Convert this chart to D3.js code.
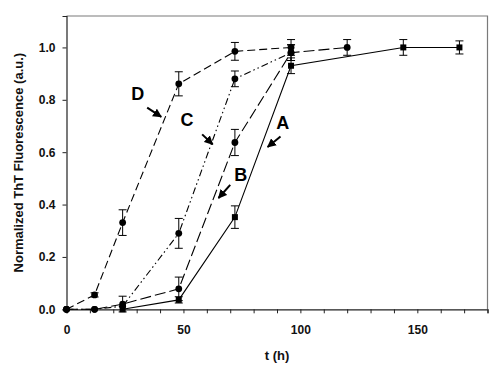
<!DOCTYPE html>
<html>
<head>
<meta charset="utf-8">
<script src="https://cdn.jsdelivr.net/npm/d3@7"></script>
<style>
  html, body { margin: 0; padding: 0; background: #fff; }
  svg { display: block; font-family: "Liberation Sans", Arial, sans-serif; }
</style>
</head>
<body>
<svg id="chart" width="497" height="375"></svg>
<script>
// time points (h) and normalized ThT values
const timesA = [24, 48, 72, 96, 144, 168];
const valsA  = [0, 0.036, 0.352, 0.93, 1.0, 1.0];
const errA   = [0, 0.012, 0.043, 0.03, 0.03, 0.025];

const timesB = [0, 12, 24, 48, 72, 96, 120];
const valsB  = [0, 0, 0.02, 0.078, 0.637, 0.98, 1.0];
const errB   = [0, 0, 0.03, 0.045, 0.05, 0.03, 0.03];

const timesC = [0, 12, 24, 48, 72, 96];
const valsC  = [0, 0, 0.012, 0.29, 0.88, 0.98];
const errC   = [0, 0, 0, 0.057, 0.03, 0.03];

const timesD = [0, 12, 24, 48, 72, 96];
const valsD  = [0, 0.055, 0.331, 0.861, 0.985, 1.0];
const errD   = [0, 0.008, 0.049, 0.046, 0.034, 0.03];

const yTicks = [0, 0.2, 0.4, 0.6, 0.8, 1.0];
const xTicks = d3.range(0, 181, 10);

const series = [
  { name: 'A', t: timesA, v: valsA, e: errA, dash: null, marker: 'square' },
  { name: 'B', t: timesB, v: valsB, e: errB, dash: '11,4', marker: 'circle' },
  { name: 'C', t: timesC, v: valsC, e: errC, dash: '7,3,1.5,3,1.5,3', marker: 'circle' },
  { name: 'D', t: timesD, v: valsD, e: errD, dash: '8,4', marker: 'circle' },
];

// label text position + arrow (in data units)
const labels = [
  { name: 'D', lx: 30.5, ly: 0.80, ax0: 34.5, ay0: 0.77, ax1: 40.5, ay1: 0.735 },
  { name: 'C', lx: 51.5, ly: 0.70, ax0: 58, ay0: 0.668, ax1: 62.5, ay1: 0.63 },
  { name: 'B', lx: 74.5, ly: 0.49, ax0: 70, ay0: 0.475, ax1: 65, ay1: 0.425 },
  { name: 'A', lx: 92.5, ly: 0.687, ax0: 91.5, ay0: 0.66, ax1: 86, ay1: 0.62 },
];

const svg = d3.select('#chart');
const L = 66.5, R = 487.5, T = 16, B = 309.3;

const x = d3.scaleLinear().domain([0, 180]).range([L, R]);
const y = d3.scaleLinear().domain([0, 1.12]).range([B, T]);

// frame (top/right grey)
svg.append('path')
  .attr('d', `M${L},${T}H${R}V${B}`)
  .attr('fill', 'none')
  .attr('stroke', '#7a7a7a')
  .attr('stroke-width', 1.2);

const xAxis = svg.append('g')
  .attr('transform', `translate(0,${B})`)
  .call(d3.axisBottom(x).tickValues(xTicks).tickSize(4).tickPadding(12)
    .tickFormat(d => d % 50 === 0 ? d : ''));

const yAxis = svg.append('g')
  .attr('transform', `translate(${L},0)`)
  .call(d3.axisLeft(y).tickValues(yTicks).tickSize(4).tickPadding(7)
    .tickFormat(d3.format('.1f')));

[xAxis, yAxis].forEach(g => {
  g.select('.domain').attr('stroke', '#222').attr('stroke-width', 1.2);
  g.selectAll('.tick line').attr('stroke', '#222');
  g.selectAll('text')
    .attr('fill', '#111')
    .style('font-size', '12px')
    .style('font-weight', 'bold')
    .style('font-family', '"Liberation Sans", Arial, sans-serif');
});

svg.append('text')
  .attr('x', 277).attr('y', 360)
  .attr('text-anchor', 'middle')
  .attr('fill', '#111')
  .style('font-size', '13px').style('font-weight', 'bold')
  .text('t (h)');

svg.append('text')
  .attr('transform', `translate(23,${(T + B) / 2}) rotate(-90)`)
  .attr('text-anchor', 'middle')
  .attr('fill', '#111')
  .style('font-size', '13px').style('font-weight', 'bold')
  .text('Normalized ThT Fluorescence (a.u.)');

const line = d3.line().x(d => x(d.t)).y(d => y(d.v));

series.forEach(s => {
  const pts = s.t.map((t, i) => ({ t, v: s.v[i], e: s.e[i] }));
  svg.append('path')
    .datum(pts)
    .attr('d', line)
    .attr('fill', 'none')
    .attr('stroke', '#000')
    .attr('stroke-width', 1.1)
    .attr('stroke-dasharray', s.dash);

  const g = svg.append('g');
  pts.filter(p => p.e > 0).forEach(p => {
    const cx = x(p.t), y0 = y(p.v - p.e), y1 = y(p.v + p.e);
    g.append('path')
      .attr('d', `M${cx},${y0}V${y1}M${cx - 4},${y0}H${cx + 4}M${cx - 4},${y1}H${cx + 4}`)
      .attr('stroke', '#000').attr('stroke-width', 1).attr('fill', 'none');
  });
  pts.forEach(p => {
    if (s.marker === 'square') {
      g.append('rect')
        .attr('x', x(p.t) - 3).attr('y', y(p.v) - 3)
        .attr('width', 6).attr('height', 6).attr('fill', '#000');
    } else {
      g.append('circle')
        .attr('cx', x(p.t)).attr('cy', y(p.v)).attr('r', 3.4).attr('fill', '#000');
    }
  });
});

// arrows
svg.append('defs').append('marker')
  .attr('id', 'head')
  .attr('viewBox', '0 0 10 10')
  .attr('refX', 9).attr('refY', 5)
  .attr('markerWidth', 4.5).attr('markerHeight', 4.5)
  .attr('markerUnits', 'strokeWidth')
  .attr('orient', 'auto')
  .append('path').attr('d', 'M0,0L10,5L0,10Z').attr('fill', '#000');

labels.forEach(l => {
  svg.append('text')
    .attr('x', x(l.lx)).attr('y', y(l.ly))
    .attr('text-anchor', 'middle')
    .attr('fill', '#000')
    .style('font-size', '18px').style('font-weight', 'bold')
    .text(l.name);
  svg.append('line')
    .attr('x1', x(l.ax0)).attr('y1', y(l.ay0))
    .attr('x2', x(l.ax1)).attr('y2', y(l.ay1))
    .attr('stroke', '#000').attr('stroke-width', 2)
    .attr('marker-end', 'url(#head)');
});
</script>
</body>
</html>
